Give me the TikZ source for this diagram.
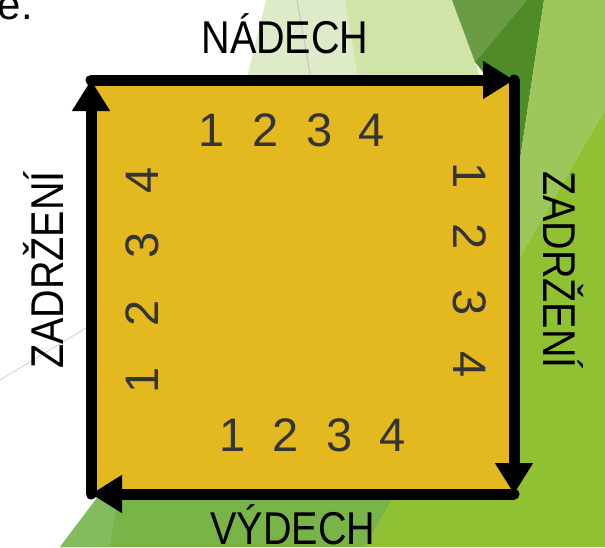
\documentclass[tikz,border=0pt]{standalone}
\usepackage{fontspec}
\setmainfont{Liberation Sans}
\newfontfamily\capsfont[FakeStretch=0.86]{Liberation Sans}
\usetikzlibrary{arrows.meta}
\definecolor{gold}{RGB}{228,184,31}
\definecolor{digitgray}{RGB}{52,52,52}
\definecolor{bgpale}{RGB}{221,235,201}
\definecolor{bglight}{RGB}{207,228,166}
\definecolor{bgolive}{RGB}{108,155,70}
\definecolor{bgdark}{RGB}{79,139,39}
\definecolor{bglime}{RGB}{158,199,91}
\definecolor{bgbright}{RGB}{143,193,50}
\definecolor{bggreen}{RGB}{121,180,73}
\definecolor{bgsoft}{RGB}{130,188,94}

\begin{document}
\begin{tikzpicture}[x=1pt,y=-1pt,
  side/.style={line width=11pt,line cap=round,-{Triangle[length=31pt,width=36pt]}},
  digit/.style={inner sep=0pt,text=digitgray,font=\fontsize{47}{47}\selectfont},
  phase/.style={inner sep=0pt,anchor=base,font=\capsfont\fontsize{46}{46}\selectfont}]
\useasboundingbox (0,0) rectangle (605,547);
\clip (0,0) rectangle (605,547);
\fill[bgpale] (266,0)--(345,0)--(360,90)--(244,90)--cycle;
\fill[bglight] (345,0)--(452,0)--(475,62)--(485,90)--(360,90)--cycle;
\fill[bgolive] (452,0)--(527,0)--(475,62)--cycle;
\fill[bgdark] (527,0)--(544,0)--(505,260)--(505,100)--(475,62)--cycle;
\fill[bglime] (544,0)--(605,0)--(605,110)--(505,283)--(505,260)--cycle;
\fill[bgbright] (605,110)--(605,547)--(365,547)--(395,494)--(505,494)--(505,283)--cycle;
\fill[bggreen] (60,547)--(100,494)--(395,494)--(365,547)--cycle;
\fill[bgsoft] (60,547)--(100,494)--(118,494)--(110,547)--cycle;
\draw[black!25,line width=0.8pt] (297,0)--(311,80);
\draw[black!18,line width=0.8pt] (0,380)--(91,325);

\node[inner sep=0pt,anchor=base east,font=\fontsize{42}{42}\selectfont] (tail) at (33,19) {e.};

\coordinate (tl) at (91,80);
\coordinate (tr) at (514,80);
\coordinate (br) at (514,494);
\coordinate (bl) at (91,494);
\fill[gold] (tl) rectangle (br);
\draw[side] (tl)--(tr);
\draw[side] (tr)--(br);
\draw[side] (br)--(bl);
\draw[side] (bl)--(tl);

\node[phase] (inhale) at (285,53) {NÁDECH};
\node[phase] (exhale) at (293,544) {VÝDECH};
\node[phase,rotate=90] (holdl) at (63,270) {ZADRŽENÍ};
\node[phase,rotate=-90] (holdr) at (543,270) {ZADRŽENÍ};

\foreach \i/\x in {1/212,2/266,3/320,4/372}
  \node[digit] (top\i) at (\x,130) {\i};
\foreach \i/\y in {1/176,2/237,3/303,4/365}
  \node[digit,rotate=-90] (right\i) at (470,\y) {\i};
\foreach \i/\x in {1/233,2/286,3/340,4/393}
  \node[digit] (bottom\i) at (\x,435) {\i};
\foreach \i/\y in {1/380,2/313,3/245,4/180}
  \node[digit,rotate=90] (left\i) at (142,\y) {\i};
\end{tikzpicture}
\end{document}
